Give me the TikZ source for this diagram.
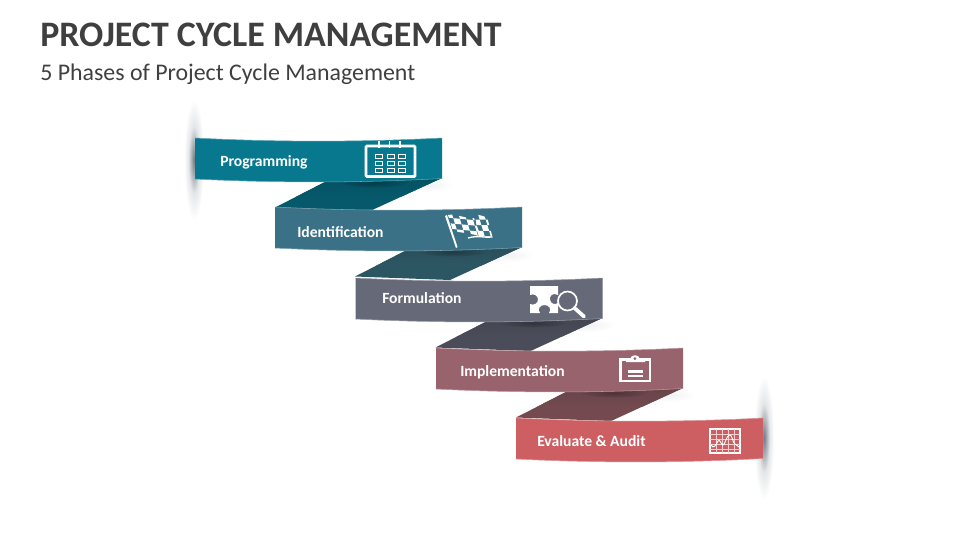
\documentclass[tikz,border=0pt]{standalone}
\usepackage{fontspec}
\setmainfont{Carlito}
\usetikzlibrary{calc}
\definecolor{ttl}{HTML}{3F3F3F}
\definecolor{subt}{HTML}{404040}
\definecolor{glow}{HTML}{5A6472}
\definecolor{ca}{HTML}{08788F}\definecolor{cb}{HTML}{3A7186}\definecolor{cc}{HTML}{666977}\definecolor{cd}{HTML}{98636D}\definecolor{ce}{HTML}{CD5F63}
\definecolor{da}{HTML}{05596B}\definecolor{db}{HTML}{2D5663}\definecolor{dc}{HTML}{4A4C59}\definecolor{dd}{HTML}{724A50}
\pgfdeclareradialshading{glowshade}{\pgfpointorigin}{color(0bp)=(glow!85!white); color(6bp)=(glow!55!white); color(14bp)=(glow!16!white); color(25bp)=(white); color(100bp)=(white)}
\tikzset{
 x=0.75pt,y=-0.75pt,
 lbl/.style={text=white,font=\fontsize{11.7pt}{14pt}\selectfont\bfseries,anchor=west,inner sep=0pt},
 sideglow/.style={shading=glowshade,draw=none},
}
\newcommand{\ribbon}[3]{% x,y,color
  \fill[#3] (#1,#2) .. controls (#1+82,#2+4.2) and (#1+165,#2+4.2) .. (#1+247,#2)
    -- (#1+247,#2+40.5) .. controls (#1+165,#2+45) and (#1+82,#2+45) .. (#1,#2+41) -- cycle;
  \draw[white!35!#3,line width=0.4pt] (#1,#2) .. controls (#1+82,#2+4.2) and (#1+165,#2+4.2) .. (#1+247,#2);
  \draw[white!35!#3,line width=0.4pt] (#1+247,#2+40.5) .. controls (#1+165,#2+45) and (#1+82,#2+45) .. (#1,#2+41);
}
\newcommand{\connector}[3]{% x,y of ribbon above,color
  \begin{scope}
   \clip (#1+132,#2+43) -- (#1+80,#2+69.5) -- (#1+175,#2+73) -- (#1+247,#2+40) -- (#1+200,#2+42) -- cycle;
   \fill[#3] (#1+60,#2+35) rectangle (#1+260,#2+75);
   \shade[top color=black!10!#3,bottom color=#3] (#1+60,#2+38) rectangle (#1+260,#2+58);
   \shade[inner color=black!32!#3,outer color=black!9!#3] (#1+178,#2+45) ellipse [x radius=32,y radius=4.5];
  \end{scope}
}
\begin{document}
\begin{tikzpicture}
\useasboundingbox (0,0) rectangle (960,540);
\fill[white] (0,0) rectangle (960,540);
\node[anchor=west,inner sep=0pt,text=ttl,font=\fontsize{26.9pt}{30pt}\selectfont\bfseries] (title) at (40,35) {PROJECT CYCLE MANAGEMENT};
\node[anchor=west,inner sep=0pt,text=subt,font=\fontsize{17.9pt}{20pt}\selectfont] (subtitle) at (40,74) {5 Phases of Project Cycle Management};
% side glows
\shade[sideglow] (194,160) ellipse [x radius=10,y radius=60];
\shade[sideglow] (764,438) ellipse [x radius=10,y radius=62];
% soft shadows beyond the ribbons' right ends
\foreach \xx/\yy in {442/178,522/248,603/318,683/388}{
  \shade[inner color=glow!9,outer color=white] (\xx-14,\yy+7) ellipse [x radius=26,y radius=7];
}
\connector{195}{138}{da}
\connector{275}{207}{db}
\connector{355.5}{278}{dc}
\connector{436}{348}{dd}
\ribbon{195}{138}{ca}
\ribbon{275}{207}{cb}
\ribbon{355.5}{278}{cc}
\ribbon{436}{348}{cd}
\ribbon{516}{418}{ce}
\node[lbl] (l1) at (220,162) {Programming};
\node[lbl] (l2) at (297,232.5) {Identification};
\node[lbl] (l3) at (382,298.5) {Formulation};
\node[lbl] (l4) at (460,372) {Implementation};
\node[lbl] (l5) at (537,441.5) {Evaluate \& Audit};
% calendar
\draw[white,line width=1.9pt,rounded corners=0.6pt] (366,146) rectangle (415,176.5);
\foreach \xx in {379,389.5,400}{\draw[white,line width=1.4pt] (\xx,141) -- (\xx,148);}
\foreach \xx in {375.5,387,398.5}\foreach \yy in {158,165,172}{
  \draw[white,line width=0.6pt] (\xx,\yy) rectangle ++(7,-4);}
% flags
\fill[white] (445,216) -- (447,215) -- (457.5,247) -- (456,248) -- cycle;
\begin{scope}
 \clip (448,215) .. controls (455,213) and (465,219) .. (474,218) -- (481,237) .. controls (472,233) and (462,233) .. (453,231) -- cycle;
 \foreach \i in {0,...,5}\foreach \j in {0,...,5}{
   \pgfmathparse{int(mod(\i+\j,2))}
   \ifnum\pgfmathresult=0
     \fill[white] ($(445,212)+(\i*6.6,\i*0.6)+(\j*1.7,\j*5.6)$) -- ++(6.6,0.6) -- ++(1.7,5.6) -- ++(-6.6,-0.6) -- cycle;
   \fi}
\end{scope}
\begin{scope}
 \clip (475,215) .. controls (479,214) and (484,217) .. (487,217) -- (492.5,237) .. controls (485,238) and (478,235) .. (468,238) -- (478,236) -- cycle;
 \foreach \i in {0,...,4}\foreach \j in {0,...,4}{
   \pgfmathparse{int(mod(\i+\j,2))}
   \ifnum\pgfmathresult=0
     \fill[white] ($(466,214)+(\i*6,0)+(\j*1.7,\j*5.6)$) -- ++(6,0) -- ++(1.7,5.6) -- ++(-6,0) -- cycle;
   \fi}
\end{scope}
\draw[white,line width=1pt] (468,238) .. controls (478,235) and (485,238) .. (492.5,237);
% puzzle and magnifier
\fill[white,even odd rule] (530,286) -- (558,286) -- (558,295)
  .. controls (553,292) and (549,296) .. (550,300) .. controls (551,304) and (555,305) .. (558,303)
  -- (558,313) -- (549,313) .. controls (552,309) and (549,305) .. (544.5,305) .. controls (540,305) and (537,309) .. (540,313)
  -- (530,313) -- (530,304) .. controls (534,306) and (538,303) .. (538,299.5) .. controls (538,296) and (534,293) .. (530,295) -- cycle;
\draw[white,line width=1.3pt] (567.5,301) circle [radius=9.5];
\draw[white,line width=2.8pt,line cap=round] (574.5,308) -- (584,316.5);
% clipboard
\draw[white,line width=2.2pt] (620.5,359.5) rectangle (650,381);
\fill[white] (626,359) -- (630,359) .. controls (631,354) and (639,354) .. (640,359) -- (645,359) -- (645,362) -- (626,362) -- cycle;
\fill[cd] (635,358.6) circle [radius=1.4];
\draw[white,line width=1.6pt] (628,371.5) -- (643,371.5);
\draw[white,line width=1.6pt] (628,376) -- (643,376);
% chart
\draw[white,line width=1.6pt] (710,429) rectangle (740,453);
\foreach \xx in {716,722,728,734}{\draw[white!70!ce,line width=0.6pt] (\xx,429) -- (\xx,453);}
\foreach \yy in {434,439,444,449}{\draw[white!70!ce,line width=0.6pt] (710,\yy) -- (740,\yy);}
\draw[white,line width=0.7pt] (711,445) .. controls (714,450) and (716,444) .. (718,441) .. controls (720,438) and (721,445) .. (723,445) .. controls (725,445) and (726,437) .. (729,435) .. controls (732,433) and (733,444) .. (735,444) -- (739,447);
\end{tikzpicture}
\end{document}
